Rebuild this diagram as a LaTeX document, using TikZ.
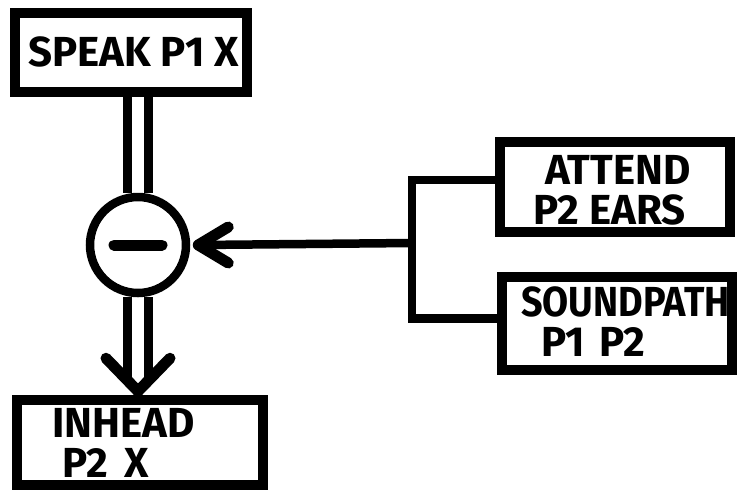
\documentclass[tikz,border=0pt]{standalone}
\usepackage{graphicx}
\usepackage{fontspec}
\setmainfont{Fira Sans}
\usetikzlibrary{arrows.meta}
\begin{document}
\begin{tikzpicture}[x=1pt,y=-1pt,
  box/.style={draw=black,line width=9.5pt,rectangle,inner sep=0pt},
  lbl/.style={font=\fontsize{42}{40}\selectfont\bfseries,align=left,inner sep=0pt,anchor=west},
  conn/.style={line width=8.5pt,line join=miter},
  rail/.style={line width=9.5pt},
  barb/.style={line width=11pt,line cap=round,line join=round}]
\useasboundingbox (0,0) rectangle (746,496);
% boxes
\node[box,minimum width=232pt,minimum height=79pt] (speak) at (131,52.5) {};
\node[box,minimum width=230pt,minimum height=90pt] (attend) at (615,187) {};
\node[box,minimum width=230pt,minimum height=93pt] (sound) at (617,323.5) {};
\node[box,minimum width=246pt,minimum height=85pt] (inhead) at (140,442.5) {};
% labels
\node[lbl] (tspeak) at (28,52) {SPEAK P1 X};
\node[lbl] (tattend) at (533,190) {\hspace{12pt}ATTEND\\P2 EARS};
\node[lbl] (tsound) at (521,322) {\scalebox{0.9}[1]{SOUNDPATH}\\\hspace{20pt}P1\hspace{14pt}P2};
\node[lbl] (tinhead) at (52,443) {INHEAD\\\hspace{10pt}P2\hspace{16pt}X};
% negation circle
\node[draw=black,circle,line width=8.5pt,minimum size=96pt,inner sep=0pt] (neg) at (138,245) {};
\draw[line width=11pt,line cap=round] ([xshift=-24pt]neg.center) -- ([xshift=24pt]neg.center);
% double connector speak -> neg
\draw[rail] ([xshift=-10.5pt]speak.south -| neg.north) -- ([xshift=-10.5pt]neg.north);
\draw[rail] ([xshift=10.5pt]speak.south -| neg.north) -- ([xshift=10.5pt]neg.north);
% double connector neg -> inhead with open arrowhead
\coordinate (tip) at ([yshift=4pt]inhead.north -| neg.south);
\draw[rail] ([xshift=-10.5pt]neg.south) -- ([shift={(-10.5pt,10pt)}]tip);
\draw[rail] ([xshift=10.5pt]neg.south) -- ([shift={(10.5pt,10pt)}]tip);
\draw[barb] ([shift={(-32pt,33pt)}]tip) -- (tip) -- ([shift={(32pt,33pt)}]tip);
% bracket and arrow
\coordinate (j) at (412,243);
\draw[conn] ([yshift=7pt]attend.west) -| (j) |- ([yshift=5pt]sound.west);
\coordinate (htip) at ([xshift=8pt]neg.east);
\draw[conn] (j) -- (htip);
\draw[barb] ([shift={(30pt,18pt)}]htip) -- (htip) -- ([shift={(30pt,-18pt)}]htip);
\end{tikzpicture}
\end{document}
